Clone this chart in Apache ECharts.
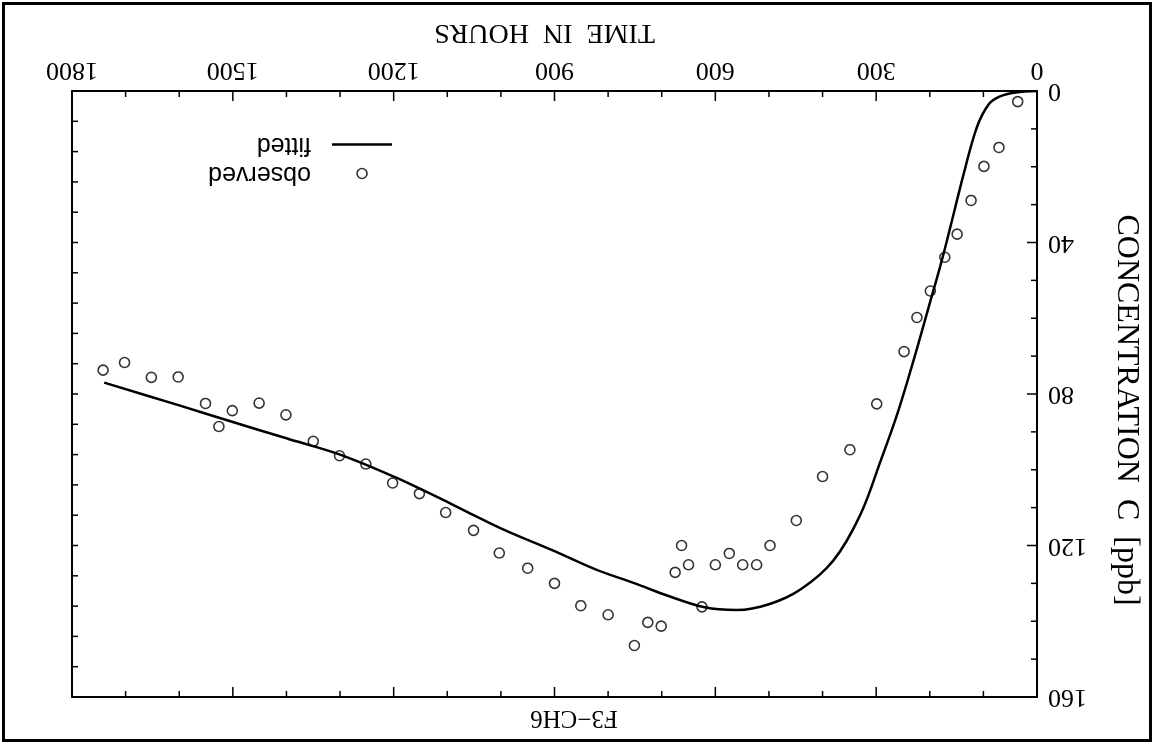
<!DOCTYPE html>
<html>
<head>
<meta charset="utf-8">
<script src="https://cdn.jsdelivr.net/npm/echarts@6/dist/echarts.min.js"></script>
<style>
  html, body { margin: 0; padding: 0; background: #fff; }
  /* the plot sheet is mounted upside down */
  #sheet { position: relative; width: 1154px; height: 744px; transform: rotate(180deg); transform-origin: 50% 50%; }
  #chart { position: absolute; left: 0; top: 0; width: 1154px; height: 744px; }
  #edge { position: absolute; left: 2px; top: 2px; right: 2px; bottom: 2px; border: 3px solid #000; pointer-events: none; }
</style>
</head>
<body>
<div id="sheet"><div id="chart"></div><div id="edge"></div></div>
<script>
// Measured concentrations (hours, ppb)
const observedHours = [36, 71, 99, 123, 149, 172, 199, 224, 248, 299, 349, 400, 449, 498, 523, 549, 574, 600,
  625, 650, 663, 675, 701, 726, 751, 800, 851, 900, 950, 1003, 1051, 1103, 1152, 1202, 1252, 1301, 1350,
  1401, 1451, 1501, 1526, 1551, 1602, 1652, 1702, 1742];
const observedConc = [2.8, 14.9, 19.9, 28.9, 37.8, 43.9, 52.8, 59.8, 68.8, 82.6, 94.7, 101.8, 113.4, 120, 125.1, 125.1, 122.1, 125.1,
  136.2, 125.1, 120, 127.1, 141.3, 140.3, 146.4, 138.3, 135.9, 130, 126, 122, 116, 111.3, 106.3, 103.5, 98.5, 96.3, 92.5,
  85.5, 82.4, 84.4, 88.6, 82.5, 75.5, 75.6, 71.7, 73.7];

// Model curve (hours, ppb)
const fittedHours = [0, 40, 70, 90, 112, 137, 160, 180, 200, 230, 260, 290, 330, 380, 440, 500, 560, 620,
  690, 750, 820, 900, 1000, 1100, 1200, 1300, 1400, 1500, 1600, 1740];
const fittedConc = [0, 0.4, 1.5, 3.5, 9.5, 22, 35, 46, 56, 71, 85, 97, 112, 124, 131.5, 135.5, 137, 136.3,
  133.2, 130, 126.5, 121.5, 115.5, 108.5, 101.8, 96, 91.7, 87.4, 83, 77];

// Frame tick marks: time edges, labelled concentration edge, far concentration edge
const timeTicks = [100, 200, 300, 400, 500, 600, 700, 800, 900, 1000, 1100, 1200, 1300, 1400, 1500, 1600, 1700];
const timeLabelStep = 300;
const concTicks = [10, 20, 30, 40, 50, 60, 70, 80, 90, 100, 110, 120, 130, 140, 150];
const concLabelStep = 40;
const concFarTicks = [8, 16, 24, 32, 40, 48, 56, 64, 72, 80, 88, 96, 104, 112, 120, 128, 136, 144, 152];

const chartTitle = 'F3\u2212CH6';
const timeAxisName = 'TIME  IN  HOURS';
const concAxisName = 'CONCENTRATION  C  [ppb]';

const SERIF = '"Liberation Serif", "Times New Roman", serif';
const SANS = '"Liberation Sans", Arial, sans-serif';
const INK = '#000';
const MAJOR_LEN = 10, MINOR_LEN = 6;

const pairs = (xs, ys) => xs.map((x, i) => [x, ys[i]]);
const plain = (v) => String(v);

const tickItems = [].concat(
  timeTicks.map(v => ({ edge: 'time', v })),
  concTicks.map(v => ({ edge: 'conc', v })),
  concFarTicks.map(v => ({ edge: 'concFar', v }))
);

function tickSeg(x1, y1, x2, y2) {
  return { type: 'line', shape: { x1, y1, x2, y2 }, style: { stroke: INK, lineWidth: 1.5 } };
}

// draws one frame tick through the cartesian scales
function renderTick(params, api) {
  const t = tickItems[params.dataIndex];
  const cs = params.coordSys;
  const bottom = cs.y + cs.height, right = cs.x + cs.width;
  if (t.edge === 'time') {
    const x = api.coord([t.v, 0])[0];
    const len = t.v % timeLabelStep === 0 ? MAJOR_LEN : MINOR_LEN;
    return { type: 'group', children: [tickSeg(x, bottom, x, bottom - len), tickSeg(x, cs.y, x, cs.y + len)] };
  }
  const y = api.coord([0, t.v])[1];
  if (t.edge === 'conc') {
    const len = t.v % concLabelStep === 0 ? MAJOR_LEN : MINOR_LEN;
    return tickSeg(cs.x, y, cs.x + len, y);
  }
  return tickSeg(right, y, right - MINOR_LEN, y);
}

function frameLine() { return { show: true, onZero: false, lineStyle: { color: INK, width: 2 } }; }

const chart = echarts.init(document.getElementById('chart'), null, { renderer: 'canvas' });
chart.setOption({
  animation: false,
  backgroundColor: '#fff',
  grid: { left: 117, right: 72, top: 47, bottom: 91, containLabel: false },
  xAxis: [
    {
      type: 'value', position: 'bottom', min: 0, max: 1800, interval: timeLabelStep,
      name: timeAxisName, nameLocation: 'middle', nameGap: 45,
      nameTextStyle: { fontFamily: SERIF, fontSize: 28, color: INK, padding: [0, 0, 0, 20] },
      axisLine: frameLine(), axisTick: { show: false },
      axisLabel: { show: true, margin: 8, fontFamily: SERIF, fontSize: 26, color: INK, formatter: plain },
      splitLine: { show: false }
    },
    {
      type: 'value', position: 'top', min: 0, max: 1800, interval: timeLabelStep,
      axisLine: frameLine(), axisTick: { show: false },
      axisLabel: { show: false }, splitLine: { show: false }
    }
  ],
  yAxis: [
    {
      type: 'value', position: 'left', min: 0, max: 160, interval: concLabelStep,
      name: concAxisName, nameLocation: 'middle', nameGap: 73,
      nameTextStyle: { fontFamily: SERIF, fontSize: 32, color: INK, padding: [0, 0, 0, 32] },
      axisLine: frameLine(), axisTick: { show: false },
      axisLabel: { show: true, margin: 11, fontFamily: SERIF, fontSize: 26, color: INK, formatter: plain },
      splitLine: { show: false }
    },
    {
      type: 'value', position: 'right', min: 0, max: 160, interval: concLabelStep,
      axisLine: frameLine(), axisTick: { show: false },
      axisLabel: { show: false }, splitLine: { show: false }
    }
  ],
  legend: {
    orient: 'vertical', left: 762, top: 558, padding: 0, itemGap: 4,
    itemWidth: 60, itemHeight: 10,
    textStyle: { fontFamily: SANS, fontSize: 25, color: INK, lineHeight: 25, padding: [0, 0, 0, 16] },
    data: [
      { name: 'observed', icon: 'circle', itemStyle: { color: 'rgba(0,0,0,0)', borderColor: INK, borderWidth: 1.6 } },
      { name: 'fitted', icon: 'path://M0,0L24,0L24,1L0,1Z', itemStyle: { color: INK, borderWidth: 0 } }
    ],
    selectedMode: false
  },
  graphic: [
    {
      type: 'text', x: 580, y: 26,
      style: { text: chartTitle, fontFamily: SERIF, fontSize: 25, fill: INK, align: 'center', verticalAlign: 'middle' }
    }
  ],
  series: [
    {
      name: 'frame ticks', type: 'custom', xAxisIndex: 0, yAxisIndex: 0,
      data: tickItems.map(t => (t.edge === 'time' ? [t.v, 0] : [0, t.v])),
      renderItem: renderTick, clip: false, silent: true, z: 1
    },
    {
      name: 'fitted', type: 'line', xAxisIndex: 0, yAxisIndex: 0,
      data: pairs(fittedHours, fittedConc),
      smooth: 0.35, showSymbol: false, symbol: 'none',
      lineStyle: { color: INK, width: 2.5 }, itemStyle: { color: INK },
      z: 2
    },
    {
      name: 'observed', type: 'scatter', xAxisIndex: 0, yAxisIndex: 0,
      data: pairs(observedHours, observedConc),
      symbol: 'circle', symbolSize: 10,
      itemStyle: { color: 'rgba(0,0,0,0)', borderColor: INK, borderWidth: 1.6 },
      z: 3
    }
  ]
});
</script>
</body>
</html>
